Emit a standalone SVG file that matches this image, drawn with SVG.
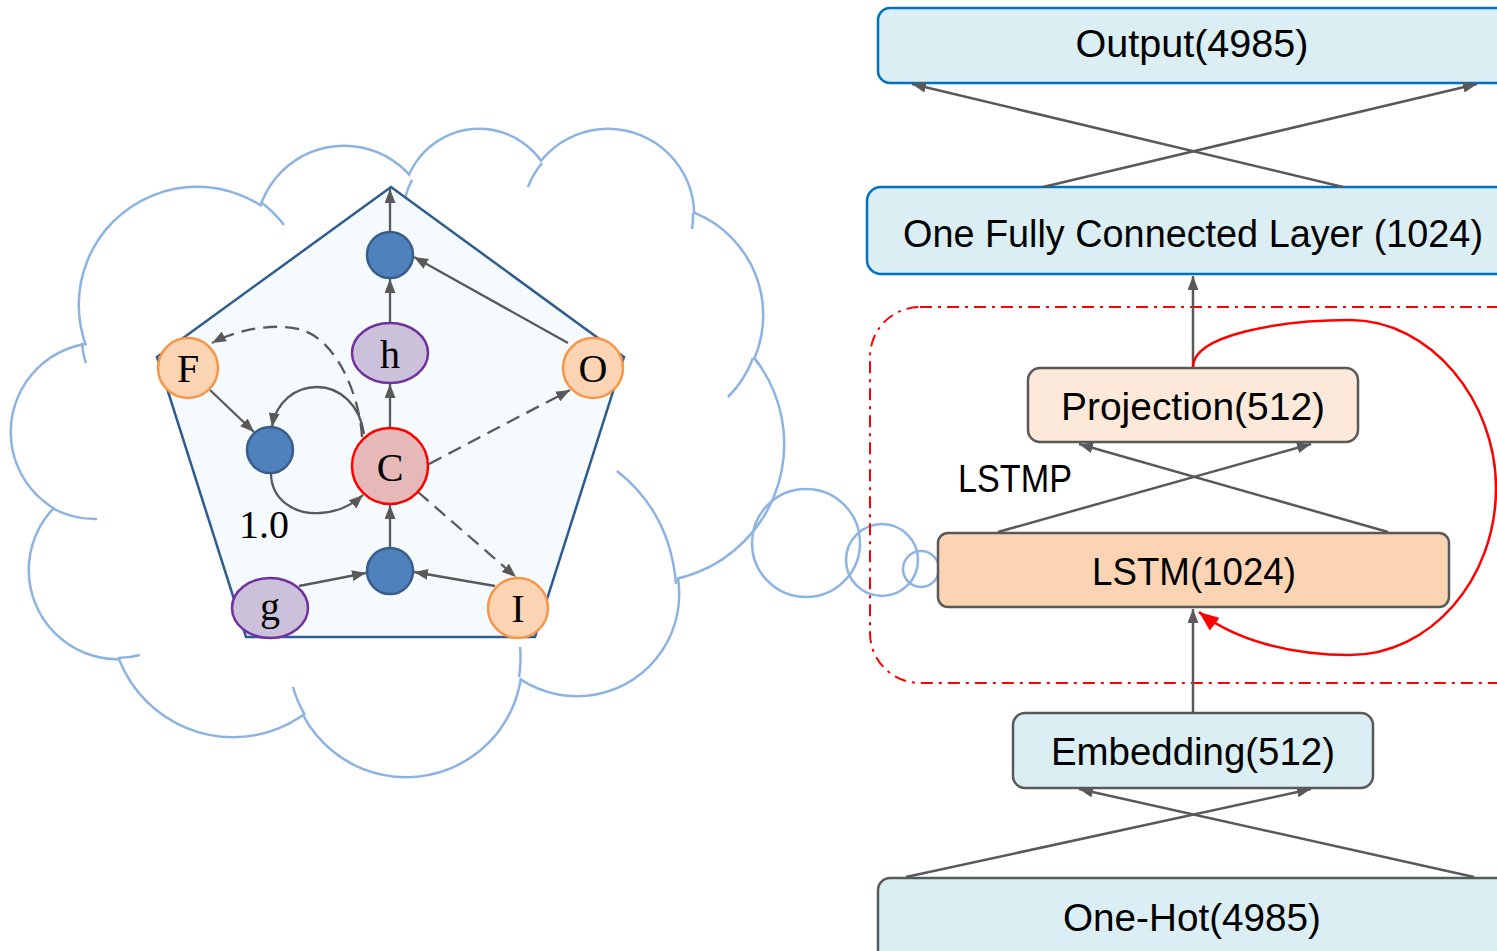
<svg xmlns="http://www.w3.org/2000/svg" width="1497" height="951" viewBox="0 0 1497 951">
  <defs>
    <marker id="ah" markerUnits="userSpaceOnUse" markerWidth="14" markerHeight="11" refX="14" refY="5.5" orient="auto">
      <path d="M0,0 L14,5.5 L0,11 z" fill="#595959"/>
    </marker>
    <marker id="ahRed" markerUnits="userSpaceOnUse" markerWidth="20" markerHeight="16" refX="20" refY="8" orient="auto">
      <path d="M0,0 L20,8 L0,16 z" fill="#ff0000"/>
    </marker>
    <style>
      .cloudRing{fill:none;stroke:#8db3e2;stroke-width:5}
      .cloudFill{fill:#ffffff;stroke:none}
      .cloudLine{fill:none;stroke:#8db3e2;stroke-width:2.5}
      .edge{fill:none;stroke:#595959;stroke-width:2.3;marker-end:url(#ah)}
      .dash{stroke-dasharray:14,8}
      .wire{fill:none;stroke:#595959;stroke-width:2.5;marker-end:url(#ah)}
      .gate{fill:#fbd4b4;stroke:#f79646;stroke-width:2.5}
      .state{fill:#ccc1da;stroke:#7030a0;stroke-width:2.5}
      .op{fill:#4f81bd;stroke:#385d8a;stroke-width:2.5}
      .sym{font-family:"Liberation Serif","Times New Roman",serif;font-size:40px;fill:#000;text-anchor:middle}
      .lbl{font-family:"Liberation Sans",Arial,sans-serif;font-size:38px;fill:#000;text-anchor:middle}
      .boxBlue{fill:#daeef3;stroke:#0070c0;stroke-width:2.5}
      .boxGrey{fill:#daeef3;stroke:#595959;stroke-width:2.5}
    </style>
  </defs>

  <rect width="1497" height="951" fill="#ffffff"/>

  <!-- thought cloud: union of circles, then the inner tails -->
  <g id="cloud">
    <g class="cloudRing">
      <circle cx="100" cy="432" r="88"/>
      <circle cx="118" cy="570" r="88"/>
      <circle cx="233" cy="615" r="121"/>
      <circle cx="406" cy="661" r="115"/>
      <circle cx="577" cy="594" r="101"/>
      <circle cx="646" cy="444" r="137"/>
      <circle cx="653" cy="315" r="109"/>
      <circle cx="608" cy="215" r="85"/>
      <circle cx="479" cy="205" r="75"/>
      <circle cx="344" cy="234" r="87"/>
      <circle cx="197" cy="305" r="117"/>
    </g>
    <g class="cloudFill">
      <circle cx="100" cy="432" r="88"/>
      <circle cx="118" cy="570" r="88"/>
      <circle cx="233" cy="615" r="121"/>
      <circle cx="406" cy="661" r="115"/>
      <circle cx="577" cy="594" r="101"/>
      <circle cx="646" cy="444" r="137"/>
      <circle cx="653" cy="315" r="109"/>
      <circle cx="608" cy="215" r="85"/>
      <circle cx="479" cy="205" r="75"/>
      <circle cx="344" cy="234" r="87"/>
      <circle cx="197" cy="305" r="117"/>
      <polygon points="100,380 200,230 344,200 479,185 608,190 700,300 740,440 660,580 560,650 402,730 233,690 118,620 60,520 40,440"/>
    </g>
    <g class="cloudLine">
      <path d="M52,508 A88,88 0 0 0 97,519"/>
      <path d="M118,658 A88,88 0 0 0 140,655"/>
      <path d="M305,715 A115,115 0 0 1 293,687"/>
      <path d="M519,677 A115,115 0 0 0 520,647"/>
      <path d="M676,584 C672,535 650,497 617,471"/>
      <path d="M753,358 A109,109 0 0 1 728,397"/>
      <path d="M693,213 A85,85 0 0 1 692,229"/>
      <path d="M542,163 A85,85 0 0 0 528,187"/>
      <path d="M412,180 A75,75 0 0 0 405,198"/>
      <path d="M262,203 A117,117 0 0 1 284,225"/>
      <path d="M82,343 Q83,355 86,363"/>
    </g>
    <g class="cloudLine">
      <circle cx="806" cy="543" r="54"/>
      <circle cx="882" cy="560" r="36"/>
      <circle cx="921" cy="569" r="18"/>
    </g>
  </g>

  <!-- LSTM cell -->
  <polygon id="cell" points="391,187 624,357 535,637 246,637 157,357" fill="#f5fafd" stroke="#2f5c8f" stroke-width="2.5" stroke-linejoin="miter"/>

  <g id="cell-connectors">
    <path class="edge" d="M390,232 L390,189"/>
    <path class="edge" d="M390,323 L390,279"/>
    <path class="edge" d="M390,428 L390,384"/>
    <path class="edge" d="M390,548 L390,505"/>
    <path class="edge" d="M299,586 L366,573"/>
    <path class="edge" d="M495,586 L414,572"/>
    <path class="edge" d="M568,343 L414,257"/>
    <path class="edge" d="M210,390 L254,432"/>
    <path class="edge" d="M271,473 C271,500 295,515 320,513 C338,512 352,505 363,495"/>
    <path class="edge" d="M364,434 C360,405 340,387 317,387 C295,387 276,402 272,427"/>
    <path class="edge dash" d="M362,437 C360,400 340,345 305,331 C280,322 240,328 212,343"/>
    <path class="edge dash" d="M429,464 L570,390"/>
    <path class="edge dash" d="M418,492 L516,577"/>
  </g>

  <g id="node-out"><circle class="op" cx="390" cy="255" r="23"/></g>
  <g id="node-h"><ellipse class="state" cx="390" cy="353" rx="38" ry="30"/><text class="sym" x="390" y="368">h</text></g>
  <g id="node-F"><circle class="gate" cx="188" cy="368" r="30"/><text class="sym" x="188" y="382">F</text></g>
  <g id="node-O"><circle class="gate" cx="593" cy="368" r="30"/><text class="sym" x="593" y="382">O</text></g>
  <g id="node-mul-f"><circle class="op" cx="270" cy="450" r="23"/></g>
  <g id="node-C"><circle cx="390" cy="466" r="38" fill="#e6b9b8" stroke="#ff0000" stroke-width="2.5"/><text class="sym" x="390" y="481">C</text></g>
  <g id="node-mul-in"><circle class="op" cx="390" cy="571" r="23"/></g>
  <g id="node-g"><ellipse class="state" cx="270" cy="608" rx="38" ry="30"/><text class="sym" x="270" y="620">g</text></g>
  <g id="node-I"><circle class="gate" cx="518" cy="608" r="30"/><text class="sym" x="518" y="622">I</text></g>
  <g id="label-weight"><text class="sym" x="264" y="538">1.0</text></g>

  <!-- network stack -->
  <rect id="lstmp-frame" x="870" y="307" width="700" height="376" rx="50" fill="none" stroke="#ff0000" stroke-width="2" stroke-dasharray="12,6,3,6"/>

  <g id="node-output"><rect class="boxBlue" x="878" y="8" width="680" height="75" rx="12"/><text class="lbl" x="1192" y="57" textLength="233" lengthAdjust="spacingAndGlyphs">Output(4985)</text></g>
  <g id="node-fc"><rect class="boxBlue" x="867" y="187" width="700" height="87" rx="14"/><text class="lbl" x="1193" y="247" textLength="580" lengthAdjust="spacingAndGlyphs">One Fully Connected Layer (1024)</text></g>
  <g id="node-projection"><rect x="1028" y="368" width="330" height="74" rx="12" fill="#fde9d9" stroke="#595959" stroke-width="2.5"/><text class="lbl" x="1193" y="420" textLength="264" lengthAdjust="spacingAndGlyphs">Projection(512)</text></g>
  <g id="label-lstmp"><text class="lbl" x="1015" y="492" textLength="114" lengthAdjust="spacingAndGlyphs">LSTMP</text></g>
  <g id="node-lstm"><rect x="938" y="533" width="511" height="74" rx="10" fill="#fbd4b4" stroke="#595959" stroke-width="2.5"/><text class="lbl" x="1194" y="585" textLength="204" lengthAdjust="spacingAndGlyphs">LSTM(1024)</text></g>
  <g id="node-embedding"><rect class="boxGrey" x="1013" y="713" width="360" height="75" rx="12"/><text class="lbl" x="1193" y="765" textLength="284" lengthAdjust="spacingAndGlyphs">Embedding(512)</text></g>
  <g id="node-onehot"><rect class="boxGrey" x="878" y="878" width="680" height="100" rx="12"/><text class="lbl" x="1192" y="931" textLength="258" lengthAdjust="spacingAndGlyphs">One-Hot(4985)</text></g>

  <g id="connectors">
    <path class="wire" d="M1043,187 L1477,84"/>
    <path class="wire" d="M1343,187 L912,84"/>
    <path class="wire" d="M1193,367 L1193,276"/>
    <path class="wire" d="M998,532 L1311,444"/>
    <path class="wire" d="M1388,532 L1079,444"/>
    <path class="wire" d="M1193,712 L1193,609"/>
    <path class="wire" d="M906,877 L1311,789"/>
    <path class="wire" d="M1474,877 L1079,789"/>
    <path d="M1193,367 C1193,335 1280,320 1350,320 C1430,320 1496,400 1496,488 C1496,580 1430,655 1350,655 C1290,655 1235,640 1199,612" fill="none" stroke="#ff0000" stroke-width="2.5" marker-end="url(#ahRed)"/>
  </g>
</svg>
